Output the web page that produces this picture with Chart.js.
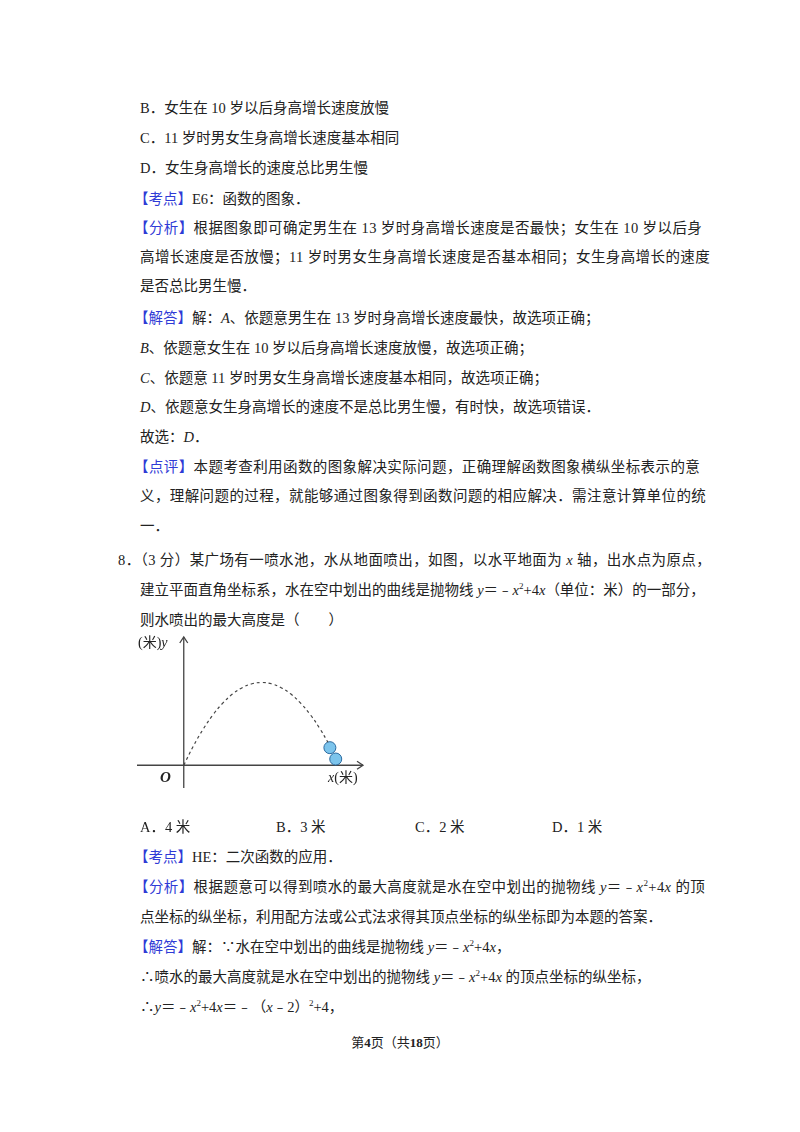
<!DOCTYPE html>
<html><head><meta charset="utf-8">
<script src="https://cdn.jsdelivr.net/npm/chart.js@4"></script>
<style>
body{margin:0;width:800px;height:1132px;background:#fff;position:relative;font-family:"Times New Roman","Liberation Serif","Noto Sans CJK SC",serif;font-size:14.5px;color:#222}
.l{position:absolute;white-space:nowrap;line-height:18px}
.f{letter-spacing:0.4px}
.b{color:#2f3bd6}
i{font-style:italic}
sup{font-size:9px;line-height:0}
#c{position:absolute;left:130px;top:630px;width:240px;height:165px}
</style></head><body>
<div class="l" style="left:140px;top:99px">B．女生在 10 岁以后身高增长速度放慢</div>
<div class="l" style="left:140px;top:129px">C．11 岁时男女生身高增长速度基本相同</div>
<div class="l" style="left:140px;top:159px">D．女生身高增长的速度总比男生慢</div>
<div class="l" style="left:134px;top:190px"><span class="b">【考点】</span>E6：函数的图象．</div>
<div class="l f" style="left:134px;top:219px"><span class="b">【分析】</span>根据图象即可确定男生在 13 岁时身高增长速度是否最快；女生在 10 岁以后身</div>
<div class="l f" style="left:140px;top:248px">高增长速度是否放慢；11 岁时男女生身高增长速度是否基本相同；女生身高增长的速度</div>
<div class="l" style="left:140px;top:277px">是否总比男生慢．</div>
<div class="l" style="left:134px;top:309px"><span class="b">【解答】</span>解：<i>A</i>、依题意男生在 13 岁时身高增长速度最快，故选项正确；</div>
<div class="l" style="left:140px;top:339px"><i>B</i>、依题意女生在 10 岁以后身高增长速度放慢，故选项正确；</div>
<div class="l" style="left:140px;top:369px"><i>C</i>、依题意 11 岁时男女生身高增长速度基本相同，故选项正确；</div>
<div class="l" style="left:140px;top:398px"><i>D</i>、依题意女生身高增长的速度不是总比男生慢，有时快，故选项错误．</div>
<div class="l" style="left:140px;top:428px">故选：<i>D</i>．</div>
<div class="l f" style="left:134px;top:458px"><span class="b">【点评】</span>本题考查利用函数的图象解决实际问题，正确理解函数图象横纵坐标表示的意</div>
<div class="l f" style="left:140px;top:487px">义，理解问题的过程，就能够通过图象得到函数问题的相应解决．需注意计算单位的统</div>
<div class="l" style="left:140px;top:517px">一．</div>
<div class="l f" style="left:118px;top:551px">8．（3 分）某广场有一喷水池，水从地面喷出，如图，以水平地面为 <i>x</i> 轴，出水点为原点，</div>
<div class="l" style="left:140px;top:581px">建立平面直角坐标系，水在空中划出的曲线是抛物线 <i>y</i>＝﹣<i>x</i><sup>2</sup>+4<i>x</i>（单位：米）的一部分，</div>
<div class="l" style="left:140px;top:611px">则水喷出的最大高度是（　　）</div>
<canvas id="c" width="240" height="165"></canvas>
<div class="l" style="left:138px;top:634px;font-size:14px">(米)<i>y</i></div>
<div class="l" style="left:160px;top:768px;font-size:15px"><i><b>O</b></i></div>
<div class="l" style="left:328px;top:769px;font-size:14px"><i>x</i>(米)</div>
<div class="l" style="left:140px;top:818px">A．4 米</div>
<div class="l" style="left:276px;top:818px">B．3 米</div>
<div class="l" style="left:415px;top:818px">C．2 米</div>
<div class="l" style="left:552px;top:818px">D．1 米</div>
<div class="l" style="left:134px;top:848px"><span class="b">【考点】</span>HE：二次函数的应用．</div>
<div class="l f" style="left:134px;top:878px"><span class="b">【分析】</span>根据题意可以得到喷水的最大高度就是水在空中划出的抛物线 <i>y</i>＝﹣<i>x</i><sup>2</sup>+4<i>x</i> 的顶</div>
<div class="l" style="left:140px;top:908px">点坐标的纵坐标，利用配方法或公式法求得其顶点坐标的纵坐标即为本题的答案．</div>
<div class="l" style="left:134px;top:938px"><span class="b">【解答】</span>解：∵水在空中划出的曲线是抛物线 <i>y</i>＝﹣<i>x</i><sup>2</sup>+4<i>x</i>，</div>
<div class="l" style="left:140px;top:968px">∴喷水的最大高度就是水在空中划出的抛物线 <i>y</i>＝﹣<i>x</i><sup>2</sup>+4<i>x</i> 的顶点坐标的纵坐标，</div>
<div class="l" style="left:140px;top:998px">∴<i>y</i>＝﹣<i>x</i><sup>2</sup>+4<i>x</i>＝﹣（<i>x</i>﹣2）<sup>2</sup>+4，</div>
<div class="l" style="left:0;width:800px;text-align:center;top:1034px;font-size:13px">第<b>4</b>页（共<b>18</b>页）</div>
<script>
const curveX=[0,0.25,0.5,0.75,1,1.25,1.5,1.75,2,2.25,2.5,2.75,3,3.25,3.5,3.7];
const curveY=[0,0.94,1.75,2.44,3,3.44,3.75,3.94,4,3.94,3.75,3.44,3,2.44,1.75,1.11];
const dropX=[3.75,3.9];
const dropY=[0.85,0.3];
const axisMin={x:-1.2,y:-1.1}, axisMax={x:4.6,y:6.2};
const axes={id:'axes',beforeDatasetsDraw(ch){
 const c=ch.ctx,xs=ch.scales.x,ys=ch.scales.y;
 const x0=xs.getPixelForValue(0),y0=ys.getPixelForValue(0);
 c.save();c.strokeStyle='#444';c.lineWidth=1.3;
 c.beginPath();c.moveTo(xs.left,y0);c.lineTo(xs.right,y0);
 c.moveTo(x0,ys.bottom);c.lineTo(x0,ys.top);c.stroke();
 c.beginPath();c.moveTo(xs.right-6,y0-4);c.lineTo(xs.right,y0);c.lineTo(xs.right-6,y0+4);
 c.moveTo(x0-4,ys.top+6);c.lineTo(x0,ys.top);c.lineTo(x0+4,ys.top+6);c.stroke();c.restore();}};
new Chart(document.getElementById('c'),{type:'scatter',
 data:{datasets:[
  {data:curveX.map((x,i)=>({x,y:curveY[i]})),showLine:true,borderColor:'#444',borderWidth:1.2,borderDash:[3,3],pointRadius:0,tension:0.4},
  {data:dropX.map((x,i)=>({x,y:dropY[i]})),pointRadius:6,backgroundColor:'#7cc4ec',borderColor:'#2a6aa0',borderWidth:1,pointStyle:'circle'}]},
 options:{animation:false,responsive:false,
  layout:{padding:0},plugins:{legend:{display:false},tooltip:{enabled:false}},
  scales:{x:{type:'linear',min:axisMin.x,max:axisMax.x,display:false},y:{min:axisMin.y,max:axisMax.y,display:false}}},
 plugins:[axes]});
</script>
</body></html>
